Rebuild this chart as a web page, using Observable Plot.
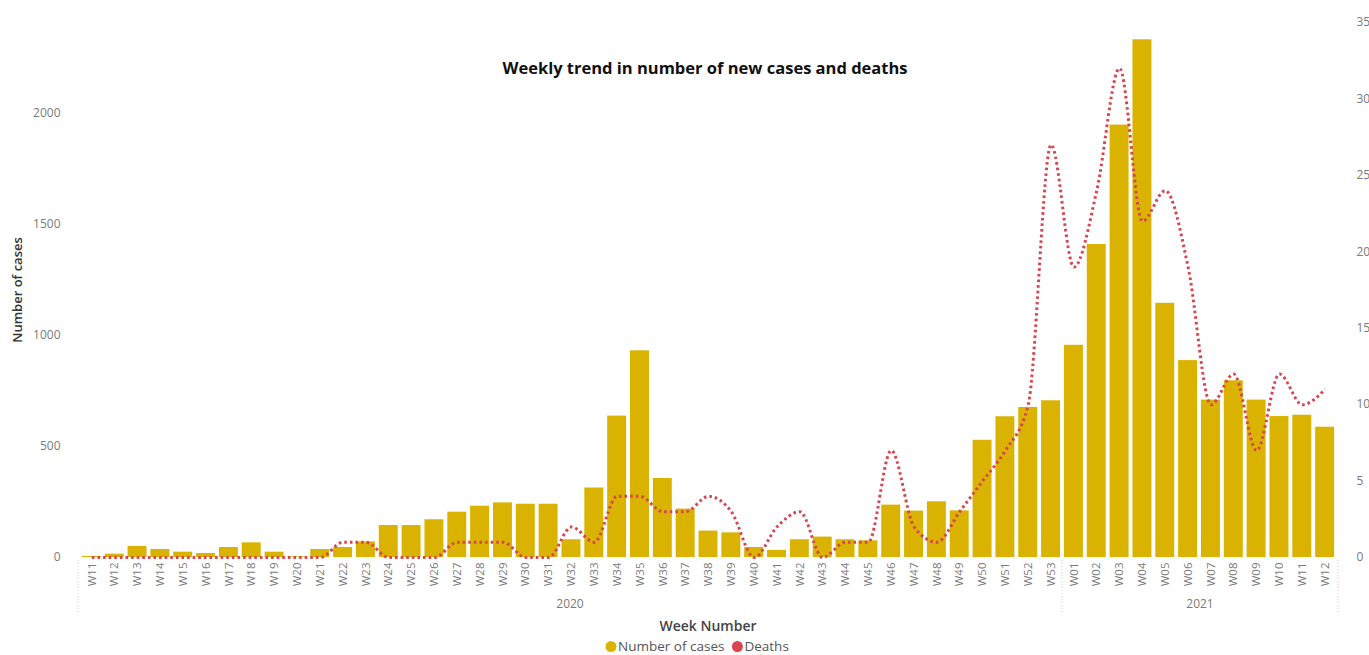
<!DOCTYPE html>
<html><head><meta charset="utf-8">
<script src="https://cdn.jsdelivr.net/npm/d3@7"></script>
<script src="https://cdn.jsdelivr.net/npm/@observablehq/plot@0.6"></script>
<style>body{margin:0;background:#fff;font-family:"Open Sans",sans-serif;}</style>
</head><body><div id="chart"></div>
<script>
const weeks2020 = ["W11","W12","W13","W14","W15","W16","W17","W18","W19","W20","W21","W22","W23","W24","W25","W26","W27","W28","W29","W30","W31","W32","W33","W34","W35","W36","W37","W38","W39","W40","W41","W42","W43","W44","W45","W46","W47","W48","W49","W50","W51","W52","W53"];
const weeks2021 = ["W01","W02","W03","W04","W05","W06","W07","W08","W09","W10","W11","W12"];
const cases2020 = [5,15,50,36,24,18,45,66,24,3,36,45,70,144,144,170,204,231,246,240,240,80,313,637,931,356,218,119,111,45,32,80,92,80,75,236,209,251,210,528,634,676,706];
const cases2021 = [956,1410,1948,2332,1145,887,709,796,709,635,641,587];
const deaths2020 = [0,0,0,0,0,0,0,0,0,0,0,1,1,0,0,0,1,1,1,0,0,2,1,4,4,3,3,4,3,0,2,3,0,1,1,7,2,1,3,5,7,10,27];
const deaths2021 = [19,24,32,22,24,19,10,12,7,12,10,11];
const years = ["2020","2021"];
const leftTicks = [0,500,1000,1500,2000];
const rightTicks = [0,5,10,15,20,25,30,35];
const casesMax = 2410, deathsMax = 35;
const title = "Weekly trend in number of new cases and deaths";
const seriesNames = ["Number of cases","Deaths"];
const colors = ["#D9B300","#D64550"];

const k = casesMax / deathsMax;
const data = [
  ...weeks2020.map((w,i)=>({key:"2020 "+w, year:"2020", cases:cases2020[i], deaths:deaths2020[i]})),
  ...weeks2021.map((w,i)=>({key:"2021 "+w, year:"2021", cases:cases2021[i], deaths:deaths2021[i]}))
];
const keys = data.map(d=>d.key);

const W = 1369, H = 655, mt = 22, mb = 98, ml = 78, mr = 31;
const chart = Plot.plot({
  width: W, height: H,
  marginTop: mt, marginBottom: mb, marginLeft: ml, marginRight: mr,
  style: {fontFamily: "'Open Sans', sans-serif", background: "#fff"},
  x: {domain: keys, padding: 0.17, axis: null},
  y: {domain: [0, casesMax], axis: null},
  marks: [
    Plot.axisY({anchor:"left", ticks: leftTicks, tickFormat: d=>String(d), tickSize: 0, tickPadding: 18, label: null, fontSize: 12, color: "#7a7a7a"}),
    Plot.axisY({anchor:"right", ticks: rightTicks.map(v=>v*k), tickFormat: v=>String(Math.round(v/k)), tickSize: 0, tickPadding: 18, label: null, fontSize: 12, color: "#7a7a7a"}),
    Plot.axisX({anchor:"bottom", tickRotate: -90, tickFormat: d=>d.split(" ")[1], tickSize: 0, tickPadding: 5, label: null, fontSize: 11.5, color: "#7a7a7a"}),
    Plot.barY(data, {x:"key", y:"cases", fill: colors[0]}),
    Plot.line(data, {x:"key", y: d=>d.deaths*k, stroke: colors[1], strokeWidth: 3, strokeDasharray: "2.6 3", strokeLinecap: "butt", curve: "monotone-x", className: "deaths-line"})
  ]
});
document.getElementById("chart").appendChild(chart);

const svg = d3.select(chart);
svg.selectAll(".deaths-line path, g.deaths-line path").attr("stroke-dasharray", "2.6 3").attr("stroke-linecap", "butt");
const xs = chart.scale("x");
const bw = xs.bandwidth, step = xs.step, gap = step - bw;
const left = ml, right = W - mr;

// title
svg.append("text").attr("x", 705).attr("y", 74).attr("text-anchor","middle")
  .attr("font-size", 16.5).attr("font-weight", 700).attr("fill","#111").text(title);
// y title
svg.append("text").attr("transform","translate(22,290) rotate(-90)").attr("text-anchor","middle")
  .attr("font-size", 13).attr("font-weight", 600).attr("fill","#333").text("Number of cases");
// year groups
const bounds = [left];
years.forEach((y,i)=>{
  const ks = data.filter(d=>d.year===y).map(d=>d.key);
  const last = ks[ks.length-1];
  const r = i === years.length-1 ? right : xs.apply(last) + bw + gap/2;
  const l = bounds[bounds.length-1];
  bounds.push(r);
  svg.append("text").attr("x", (l+r)/2).attr("y", 608).attr("text-anchor","middle")
    .attr("font-size", 12).attr("fill","#7a7a7a").text(y);
});
bounds.forEach(b=>{
  svg.append("line").attr("x1", b).attr("x2", b).attr("y1", 560).attr("y2", 613)
    .attr("stroke","#cfcfcf").attr("stroke-width",1).attr("stroke-dasharray","1 2");
});
// x title
svg.append("text").attr("x", 708).attr("y", 631).attr("text-anchor","middle")
  .attr("font-size", 14).attr("font-weight", 600).attr("fill","#444").text("Week Number");
// legend
let lx = 611;
seriesNames.forEach((n,i)=>{
  svg.append("circle").attr("cx", lx).attr("cy", 646.5).attr("r", 5.5).attr("fill", colors[i]);
  const t = svg.append("text").attr("x", lx+7).attr("y", 651).attr("text-anchor","start")
    .attr("font-size", 13.5).attr("fill","#555").text(n);
  lx += 7 + t.node().getComputedTextLength() + 13;
});
</script></body></html>
